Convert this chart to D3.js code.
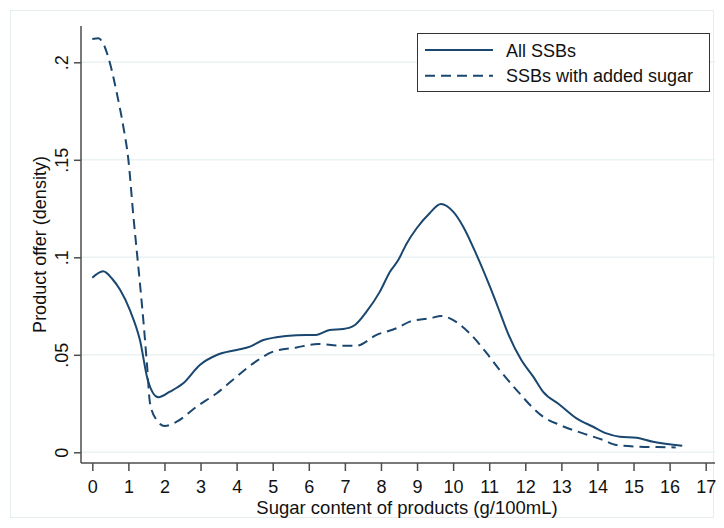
<!DOCTYPE html>
<html>
<head>
<meta charset="utf-8">
<script src="https://cdn.jsdelivr.net/npm/d3@7"></script>
<style>
  html, body { margin: 0; padding: 0; background: #fff; }
  svg { display: block; }
  text { font-family: "Liberation Sans", Arial, sans-serif; fill: #111; }
</style>
</head>
<body>
<svg id="chart" width="724" height="528"></svg>
<script>
// ---- data ----
const xTicks = [0,1,2,3,4,5,6,7,8,9,10,11,12,13,14,15,16,17];
const yTicks = [0, 0.05, 0.1, 0.15, 0.2];
const yTickLabels = ["0", ".05", ".1", ".15", ".2"];
const seriesNames = ["All SSBs", "SSBs with added sugar"];

const allSugar = [0,0.30,0.55,0.77,1.04,1.32,1.55,1.83,2.15,2.52,2.98,3.45,4.0,4.37,4.74,5.1,5.66,6.2,6.58,6.95,7.28,7.6,7.97,8.25,8.48,8.71,8.99,9.35,9.66,10.0,10.28,10.65,11.02,11.29,11.52,11.89,12.22,12.49,12.96,13.42,13.88,14.25,14.62,15.08,15.54,16.35];
const allDensity = [0.0895,0.0928,0.0890,0.0833,0.0730,0.0576,0.0362,0.0282,0.0311,0.0354,0.0448,0.0499,0.0525,0.0542,0.0576,0.0590,0.0600,0.0602,0.0627,0.0632,0.0653,0.0721,0.0824,0.0926,0.0986,0.1070,0.1149,0.1226,0.1273,0.1234,0.1157,0.1012,0.0849,0.0721,0.0610,0.0473,0.0388,0.0311,0.0243,0.0174,0.0131,0.0097,0.0080,0.0075,0.0054,0.0034];

const addedSugar = [0,0.17,0.30,0.49,0.68,0.86,1.0,1.14,1.23,1.32,1.43,1.52,1.60,1.78,2.01,2.34,2.89,3.45,4.0,4.46,5.01,5.66,6.26,6.86,7.32,7.88,8.43,8.8,9.35,9.68,9.91,10.46,10.93,11.29,11.76,12.49,12.96,13.6,14.16,14.53,15.17,16.0,16.17];
const addedDensity = [0.2119,0.2123,0.2097,0.1995,0.1841,0.1670,0.1500,0.1208,0.1037,0.0867,0.0644,0.0439,0.0251,0.0166,0.0135,0.0157,0.0234,0.0303,0.0388,0.0456,0.0516,0.0538,0.0555,0.0547,0.0547,0.0602,0.0636,0.0670,0.0687,0.0699,0.0687,0.0610,0.0508,0.0422,0.0319,0.0183,0.0140,0.0097,0.0063,0.0037,0.0029,0.0026,0.0025];

// ---- layout ----
const svg = d3.select("#chart");
const lineColor = "#1a476f";
const axisColor = "#4d4d4d";
const plotL = 81, plotR = 715, plotT = 26, plotB = 463;

const x = d3.scaleLinear().domain([0, 17]).range([92.3, 705.7]);
const y = d3.scaleLinear().domain([0, 0.2]).range([452.3, 62.3]);

// outer faint border
svg.append("rect").attr("x", 10.5).attr("y", 10.5).attr("width", 703).attr("height", 507)
  .attr("fill", "none").attr("stroke", "#e6edf0").attr("stroke-width", 1);

// gridlines
svg.append("g").selectAll("line").data(yTicks).join("line")
  .attr("x1", plotL).attr("x2", plotR)
  .attr("y1", d => y(d)).attr("y2", d => y(d))
  .attr("stroke", "#eaf2f3").attr("stroke-width", 1.5);

// y axis
const yAxis = svg.append("g").attr("transform", `translate(${plotL},0)`)
  .call(d3.axisLeft(y).tickValues(yTicks).tickSize(7).tickSizeOuter(0).tickFormat((d,i) => yTickLabels[i]));
yAxis.select(".domain").attr("d", `M0,${plotT}V${plotB}`).attr("stroke", axisColor).attr("stroke-width", 1.5);
yAxis.selectAll(".tick line").attr("stroke", axisColor).attr("stroke-width", 1.5);
yAxis.selectAll(".tick text")
  .attr("x", null).attr("dy", null)
  .attr("transform", "translate(-13,0) rotate(-90)")
  .attr("text-anchor", "middle")
  .style("font-size", "18px").style("font-family", "Liberation Sans, Arial, sans-serif").attr("fill", "#111");

// x axis
const xAxis = svg.append("g").attr("transform", `translate(0,${plotB})`)
  .call(d3.axisBottom(x).tickValues(xTicks).tickSize(8).tickSizeOuter(0).tickFormat(d3.format("d")));
xAxis.select(".domain").attr("d", `M${plotL},0H${plotR}`).attr("stroke", axisColor).attr("stroke-width", 1.5);
xAxis.selectAll(".tick line").attr("stroke", axisColor).attr("stroke-width", 1.5);
xAxis.selectAll(".tick text")
  .attr("y", 29.5).attr("dy", null)
  .style("font-size", "18px").style("font-family", "Liberation Sans, Arial, sans-serif").attr("fill", "#111");

// axis titles
svg.append("text")
  .attr("transform", `translate(46,${(plotT + plotB) / 2}) rotate(-90)`)
  .attr("text-anchor", "middle").style("font-size", "18px")
  .text("Product offer (density)");
svg.append("text")
  .attr("x", 407).attr("y", 514)
  .attr("text-anchor", "middle").style("font-size", "18.5px")
  .text("Sugar content of products (g/100mL)");

// lines
const line = d3.line().x(d => x(d[0])).y(d => y(d[1])).curve(d3.curveMonotoneX);
const allData = allSugar.map((v, i) => [v, allDensity[i]]);
const addedData = addedSugar.map((v, i) => [v, addedDensity[i]]);

svg.append("path").datum(addedData).attr("d", line)
  .attr("fill", "none").attr("stroke", lineColor).attr("stroke-width", 2)
  .attr("stroke-dasharray", "10,6");
svg.append("path").datum(allData).attr("d", line)
  .attr("fill", "none").attr("stroke", lineColor).attr("stroke-width", 2);

// legend
const lg = svg.append("g");
lg.append("rect").attr("x", 417.5).attr("y", 33.5).attr("width", 292).attr("height", 58)
  .attr("fill", "#fff").attr("stroke", "#333").attr("stroke-width", 1);
const rows = [50, 75.7];
seriesNames.forEach((name, i) => {
  lg.append("line").attr("x1", 425).attr("x2", 493).attr("y1", rows[i]).attr("y2", rows[i])
    .attr("stroke", lineColor).attr("stroke-width", 2)
    .attr("stroke-dasharray", i === 1 ? "10,6" : null);
  lg.append("text").attr("x", 506).attr("y", rows[i] + 6.5).style("font-size", "18px").text(name);
});
</script>
</body>
</html>
